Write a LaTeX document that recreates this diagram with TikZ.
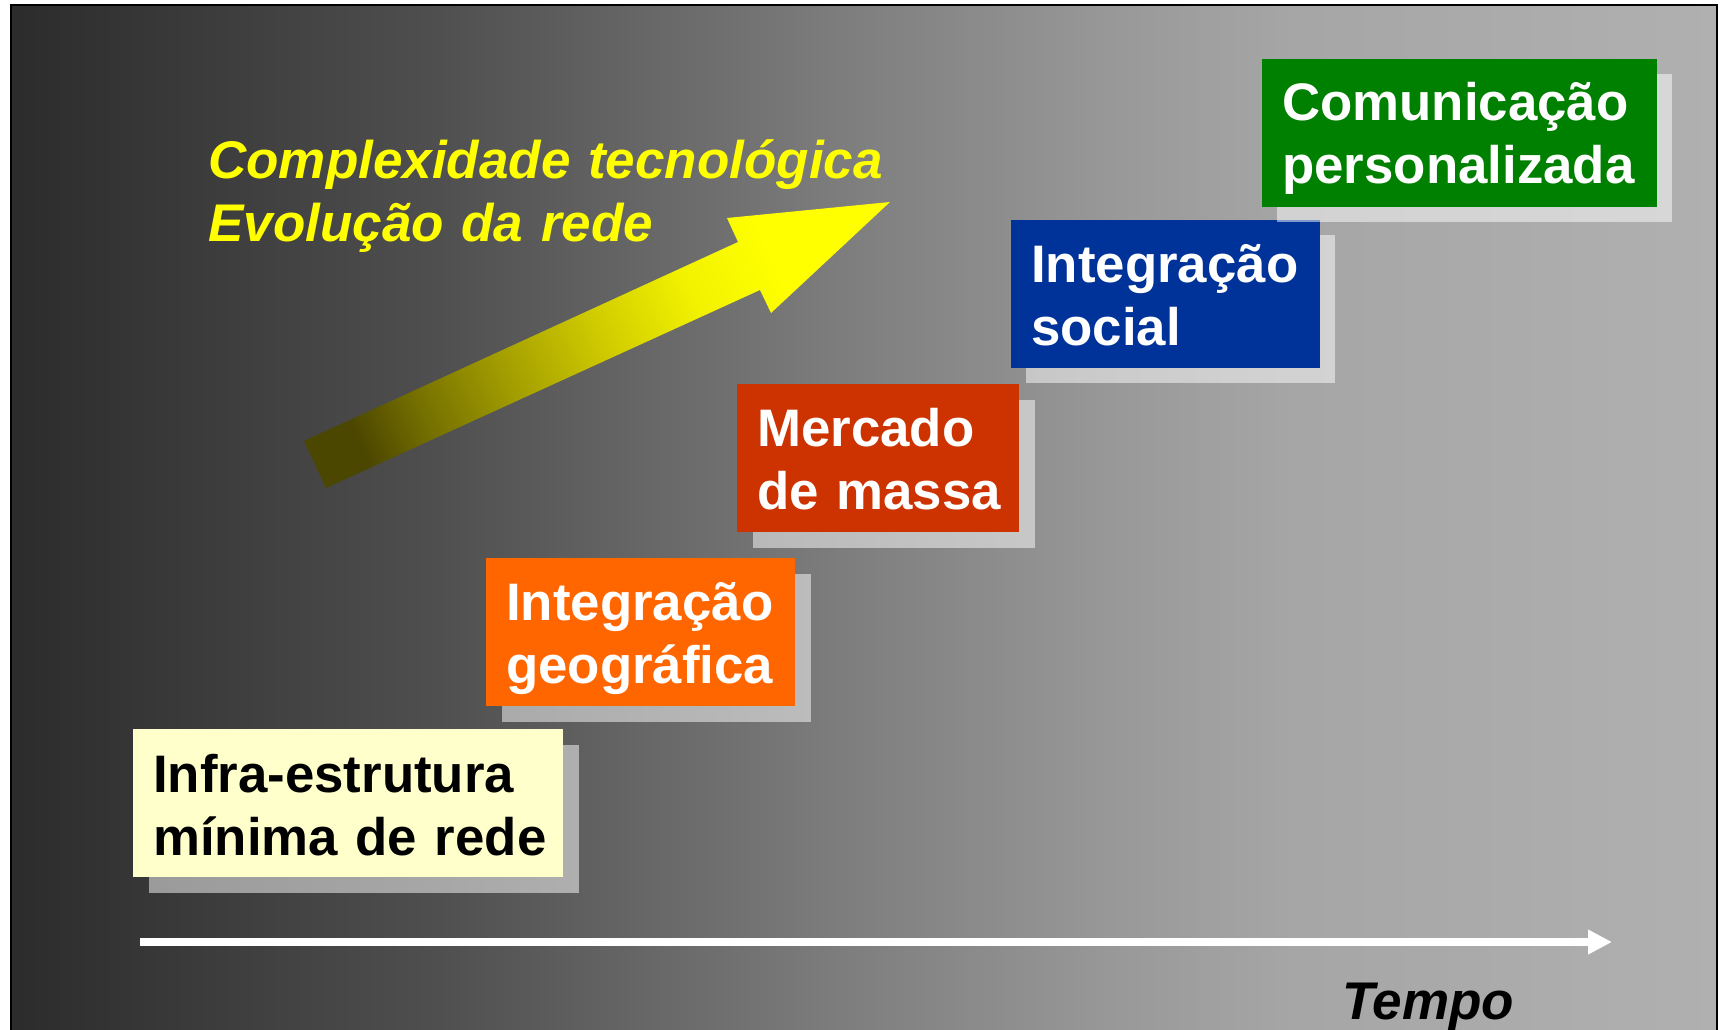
\documentclass[tikz,border=0pt]{standalone}
\usepackage{fontspec}
\setmainfont{Liberation Sans}
\usepackage{tikz}
\usetikzlibrary{arrows.meta,positioning}

\definecolor{infrafill}{RGB}{255,255,204}
\definecolor{geofill}{RGB}{255,102,0}
\definecolor{mercadofill}{RGB}{204,51,0}
\definecolor{socialfill}{RGB}{0,51,153}
\definecolor{comfill}{RGB}{0,128,0}
\definecolor{amarelo}{RGB}{255,255,0}

% the path's box is laid on 25bp--75bp of a shading
\pgfdeclarehorizontalshading{fundo}{100bp}{rgb(0bp)=(0.17,0.17,0.17); rgb(25bp)=(0.17,0.17,0.17); rgb(37.5bp)=(0.31,0.31,0.31); rgb(50bp)=(0.50,0.50,0.50); rgb(57.5bp)=(0.60,0.60,0.60); rgb(62.5bp)=(0.65,0.65,0.65); rgb(75bp)=(0.69,0.69,0.69); rgb(100bp)=(0.69,0.69,0.69)}
\pgfdeclarehorizontalshading{seta}{100bp}{rgb(0bp)=(0.30,0.28,0); rgb(24bp)=(0.30,0.28,0); rgb(31bp)=(0.46,0.44,0); rgb(41bp)=(0.65,0.63,0); rgb(51bp)=(0.82,0.80,0); rgb(61bp)=(0.95,0.95,0); rgb(70bp)=(1,1,0); rgb(100bp)=(1,1,0)}

\newcommand{\boxfont}{\bfseries\fontsize{39.6}{47.25}\selectfont}
\newcommand{\titlefont}{\bfseries\itshape\fontsize{39.75}{47.25}\selectfont}

\tikzset{
  stepbox/.style={anchor=north west, inner sep=0pt, minimum height=111pt},
  stepshadow/.style={stepbox, fill=white, fill opacity=0.5},
  steptext/.style={anchor=base west, inner sep=0pt, text width=300pt, align=left, font=\boxfont, text=white},
  titletext/.style={anchor=base west, inner sep=0pt, text width=600pt, align=left, font=\titlefont},
  timeline/.style={draw=white, line width=6pt, -{Triangle[length=18pt,width=17.5pt]}}
}

\begin{document}
\begin{tikzpicture}[x=0.75pt,y=0.75pt,yscale=-1,xscale=1]
\useasboundingbox (0,0) rectangle (1725,1029);
\clip (0,0) rectangle (1725,1029);

        %Shape: Rectangle (background)
        \shade[shading=fundo] (11,5) rectangle (1717,1060);
        \draw[line width=1.5pt] (11,5) rectangle (1717,1060);

        %Shape: Arrow
        \shade[shading=seta, shading angle=24.6] (304,441) -- (738,242) -- (727,218) -- (890,202) -- (771,313) -- (760,290) -- (326,488) -- cycle;

        \node[titletext, text=amarelo] (complexidade) at (208,178) {Complexidade tecnológica\\Evolução da rede};

        %Shape: Rectangle
        \node[stepshadow, minimum width=322.5pt] (infrashadow) at (149,745) {};
        \node[stepbox, fill=infrafill, minimum width=322.5pt] (infra) at (133,729) {};
        \node[steptext, text=black] (infratext) at ([shift={(20,63)}]infra.north west) {Infra-estrutura\\mínima de rede};

        %Shape: Rectangle
        \node[stepshadow, minimum width=231.75pt] (geoshadow) at (502,574) {};
        \node[stepbox, fill=geofill, minimum width=231.75pt] (geo) at (486,558) {};
        \node[steptext] (geotext) at ([shift={(20,62)}]geo.north west) {Integração\\geográfica};

        %Shape: Rectangle
        \node[stepshadow, minimum width=211.5pt] (mercadoshadow) at (753,400) {};
        \node[stepbox, fill=mercadofill, minimum width=211.5pt] (mercado) at (737,384) {};
        \node[steptext] (mercadotext) at ([shift={(20,62)}]mercado.north west) {Mercado\\de massa};

        %Shape: Rectangle
        \node[stepshadow, minimum width=231.75pt] (socialshadow) at (1026,235) {};
        \node[stepbox, fill=socialfill, minimum width=231.75pt] (social) at (1011,220) {};
        \node[steptext] (socialtext) at ([shift={(20,62)}]social.north west) {Integração\\social};

        %Shape: Rectangle
        \node[stepshadow, minimum width=296.25pt] (comshadow) at (1277,74) {};
        \node[stepbox, fill=comfill, minimum width=296.25pt] (com) at (1262,59) {};
        \node[steptext] (comtext) at ([shift={(20,61)}]com.north west) {Comunicação\\personalizada};

        %Straight Lines
        \coordinate (t0) at (140,942);
        \coordinate (t1) at (1612,942);
        \draw[timeline] (t0) -- (t1);

        \node[titletext, text=black] (tempo) at (1342,1019) {Tempo};
\end{tikzpicture}
\end{document}
